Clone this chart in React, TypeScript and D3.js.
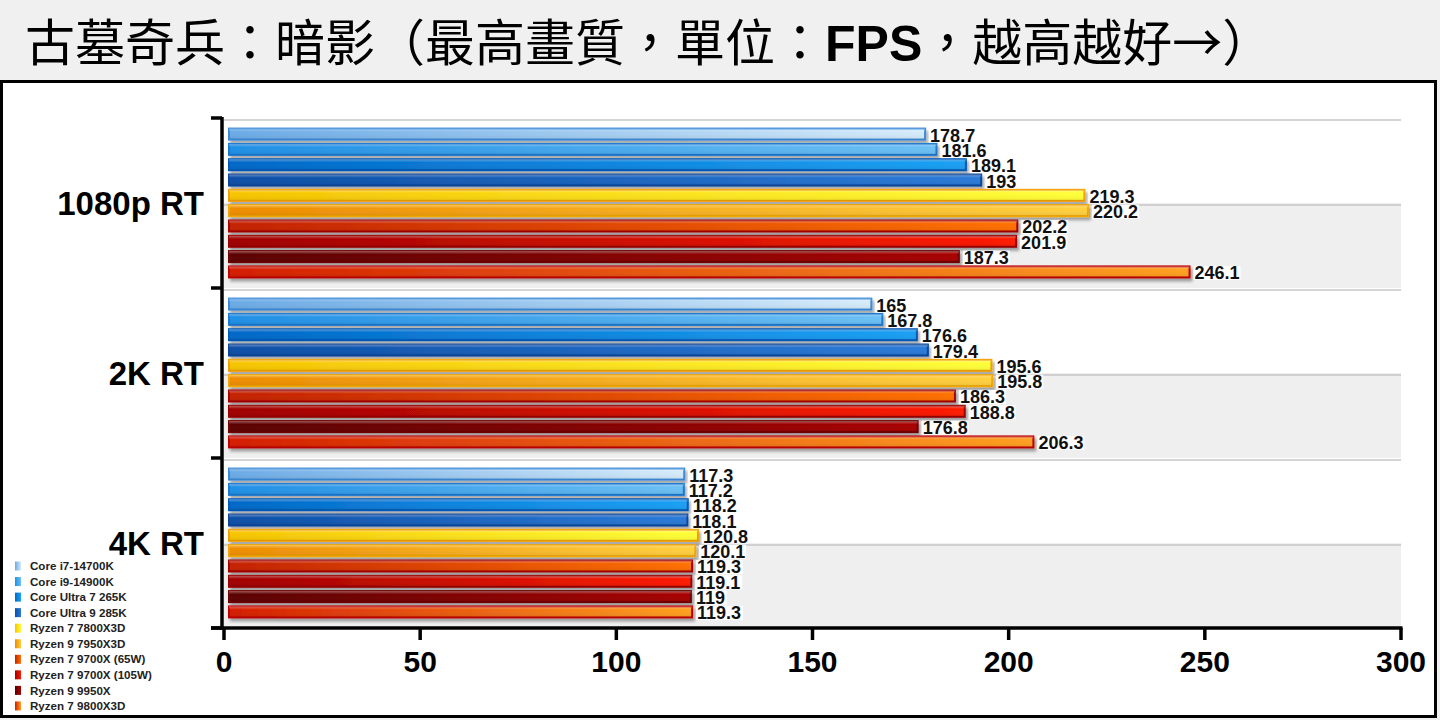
import React, { useEffect } from "react";
import * as d3 from "d3";

const categories = ["1080p RT", "2K RT", "4K RT"];
const series = [
  "Core i7-14700K",
  "Core i9-14900K",
  "Core Ultra 7 265K",
  "Core Ultra 9 285K",
  "Ryzen 7 7800X3D",
  "Ryzen 9 7950X3D",
  "Ryzen 7 9700X (65W)",
  "Ryzen 7 9700X (105W)",
  "Ryzen 9 9950X",
  "Ryzen 7 9800X3D",
];
const values1080p = [178.7, 181.6, 189.1, 193, 219.3, 220.2, 202.2, 201.9, 187.3, 246.1];
const values2K = [165, 167.8, 176.6, 179.4, 195.6, 195.8, 186.3, 188.8, 176.8, 206.3];
const values4K = [117.3, 117.2, 118.2, 118.1, 120.8, 120.1, 119.3, 119.1, 119, 119.3];
const xTicks = [0, 50, 100, 150, 200, 250, 300];

// left colour, right colour, border colour
const seriesColors: [string, string, string][] = [
  ["#6aaae6", "#d6ebfa", "#3a8ad8"],
  ["#1e8fe6", "#6cc0f4", "#1a78d0"],
  ["#0068c8", "#1aa0f4", "#0658b8"],
  ["#0a4ea6", "#2a7ad8", "#08449a"],
  ["#f6c400", "#ffff38", "#f4a000"],
  ["#ee8c00", "#ffd040", "#f4a800"],
  ["#c42000", "#ff7000", "#a40000"],
  ["#a00000", "#ff1a00", "#980000"],
  ["#5a0000", "#a80000", "#700000"],
  ["#d41c00", "#ffa020", "#c00000"],
];

const dataByCat = [values1080p, values2K, values4K];

const NUM_FONT = "'Liberation Sans', Arial, Helvetica, sans-serif";
const CJK_FONT = "'Noto Sans CJK TC', 'Noto Sans CJK SC', sans-serif";

export default function App() {
  useEffect(() => {
    document.body.style.margin = "0";
  }, []);

  const W = 1440;
  const H = 720;
  const x = d3.scaleLinear().domain([0, 300]).range([224, 1401]);
  const yCat = d3.scaleBand<string>().domain(categories).range([118, 628]);
  const ySer = d3
    .scaleBand<string>()
    .domain(series)
    .range([0, yCat.bandwidth()])
    .paddingInner(0.15)
    .paddingOuter(0.625);
  const halves = d3.range(categories.length * 2).map(String);
  const yHalf = d3.scaleBand<string>().domain(halves).range([118, 628]);

  const labelW = (s: string) =>
    s.split("").reduce((a, c) => a + (c === "." ? 5 : 10), 0) + 2;

  return (
    <div style={{ position: "absolute", left: 0, top: 0 }}>
      <svg width={W} height={H} style={{ display: "block" }}>
        <defs>
          {seriesColors.map((c, i) => (
            <linearGradient key={i} id={`g${i}`} x1="0" x2="1" y1="0" y2="0">
              <stop offset="0" stopColor={c[0]} />
              <stop offset="1" stopColor={c[1]} />
            </linearGradient>
          ))}
          <linearGradient id="hl" x1="0" x2="0" y1="0" y2="1">
            <stop offset="0" stopColor="#fff" stopOpacity={0.35} />
            <stop offset="0.3" stopColor="#fff" stopOpacity={0} />
            <stop offset="1" stopColor="#000" stopOpacity={0.08} />
          </linearGradient>
          <filter id="sh" x="-5%" y="-50%" width="110%" height="250%">
            <feDropShadow dx="2" dy="3" stdDeviation="1.6" floodColor="#000" floodOpacity="0.35" />
          </filter>
        </defs>
        <rect x={0} y={0} width={W} height={H} fill="#f0f0f0" />
        <rect x={1.5} y={81.5} width={1434} height={635} fill="#ffffff" stroke="#000" strokeWidth={3} />

        {/* title */}
        <text x={25} y={61} fontFamily={CJK_FONT} fontSize={50} fill="#000">
          古墓奇兵：暗影（最高畫質，單位：
          <tspan fontFamily={NUM_FONT} fontWeight="bold">FPS</tspan>
          ，越高越好→）
        </text>

        {/* stripes */}
        {halves.map((h, i) => (
          <rect
            key={h}
            x={x(0)}
            y={yHalf(h)!}
            width={x(300) - x(0)}
            height={yHalf.bandwidth()}
            fill={i % 2 === 1 ? "#efefef" : "#ffffff"}
          />
        ))}
        {halves.map((h) => (
          <line
            key={"gl" + h}
            x1={x(0)}
            x2={x(300)}
            y1={yHalf(h)! + 2}
            y2={yHalf(h)! + 2}
            stroke="#c6c6c6"
            strokeWidth={1.5}
          />
        ))}

        {/* bars */}
        {categories.map((cat, ci) => (
          <g key={cat}>
            {series.map((s, si) => {
              const v = dataByCat[ci][si];
              const y0 = yCat(cat)! + ySer(s)!;
              const bh = ySer.bandwidth();
              const x0 = x(0) + 5;
              const x1 = x(v);
              return (
                <g key={s}>
                  <rect
                    x={x0}
                    y={y0 + 1}
                    width={x1 - x0}
                    height={bh - 2}
                    fill={`url(#g${si})`}
                    stroke={seriesColors[si][2]}
                    strokeWidth={2}
                    filter="url(#sh)"
                  />
                  <rect x={x0} y={y0 + 1} width={x1 - x0} height={bh - 2} fill="url(#hl)" />
                </g>
              );
            })}
          </g>
        ))}

        {/* labels */}
        {categories.map((cat, ci) => (
          <g key={"l" + cat}>
            {series.map((s, si) => {
              const v = dataByCat[ci][si];
              const str = String(v);
              const yc = yCat(cat)! + ySer(s)! + ySer.bandwidth() / 2 + 1;
              const lx = x(v) + 4;
              return (
                <g key={s}>
                  <rect x={lx} y={yc - 7} width={labelW(str)} height={14} fill="#fff" />
                  <text
                    x={lx + 1}
                    y={yc}
                    dy="0.36em"
                    fontFamily={NUM_FONT}
                    fontWeight="bold"
                    fontSize={18}
                    fill="#111"
                  >
                    {str}
                  </text>
                </g>
              );
            })}
          </g>
        ))}

        {/* axes */}
        <line x1={x(0) - 2} x2={x(0) - 2} y1={117} y2={629.5} stroke="#000" strokeWidth={3.5} />
        {[...categories.map((c) => yCat(c)!), 628].map((yy, i) => (
          <line key={"yt" + i} x1={211} x2={x(0) - 2} y1={yy} y2={yy} stroke="#000" strokeWidth={3.5} />
        ))}
        <line x1={211} x2={x(300) + 1.5} y1={628} y2={628} stroke="#000" strokeWidth={3.5} />
        {xTicks.map((t) => (
          <g key={"xt" + t}>
            <line x1={x(t)} x2={x(t)} y1={628} y2={640} stroke="#000" strokeWidth={3.5} />
            <text
              x={x(t)}
              y={672}
              textAnchor="middle"
              fontFamily={NUM_FONT}
              fontWeight="bold"
              fontSize={30}
              fill="#000"
            >
              {t}
            </text>
          </g>
        ))}
        {categories.map((c) => (
          <text
            key={"cl" + c}
            x={204}
            y={yCat(c)! + yCat.bandwidth() / 2}
            dy="0.36em"
            textAnchor="end"
            fontFamily={NUM_FONT}
            fontWeight="bold"
            fontSize={33}
            fill="#000"
          >
            {c}
          </text>
        ))}

        {/* legend */}
        {series.map((s, i) => {
          const ly = 566 + i * 15.55;
          return (
            <g key={"lg" + s}>
              <rect x={15} y={ly - 4.5} width={6} height={9} fill={`url(#g${i})`} />
              <text
                x={30}
                y={ly}
                dy="0.36em"
                fontFamily={NUM_FONT}
                fontWeight="bold"
                fontSize={11.6}
                fill="#222"
              >
                {s}
              </text>
            </g>
          );
        })}
      </svg>
    </div>
  );
}
